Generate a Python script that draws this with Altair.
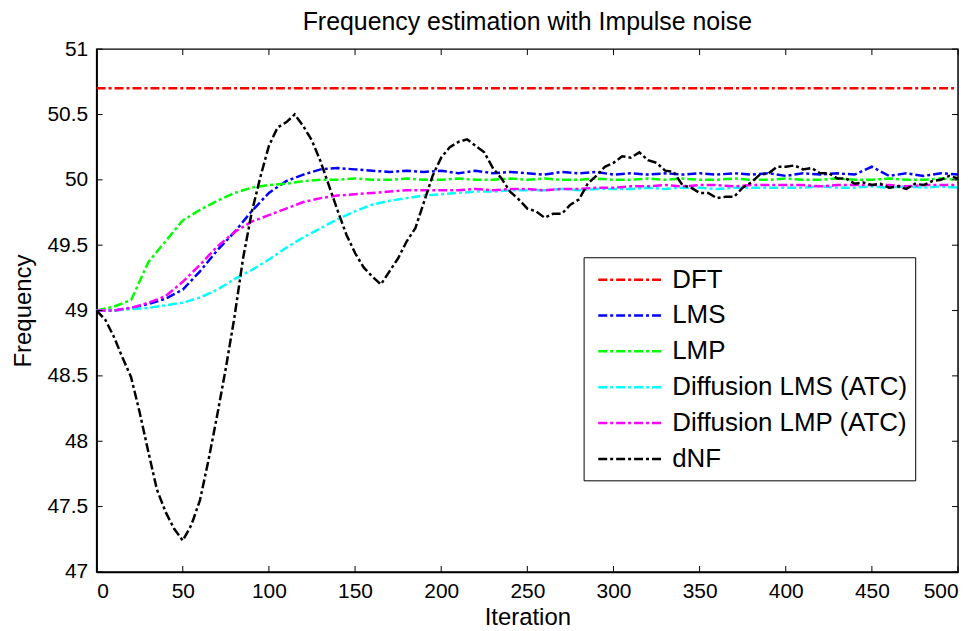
import altair as alt
import pandas as pd

FONT = "Liberation Sans, Arial, Helvetica, sans-serif"

chart_title = ["Frequency estimation with Impulse noise"]
series_names = ["DFT", "LMS", "LMP", "Diffusion LMS (ATC)", "Diffusion LMP (ATC)", "dNF"]
series_colors = ["#ff0000", "#0000ff", "#00ff00", "#00ffff", "#ff00ff", "#000000"]

x_ticks = [0, 50, 100, 150, 200, 250, 300, 350, 400, 450, 500]
y_ticks = [47, 47.5, 48, 48.5, 49, 49.5, 50, 50.5, 51]

dft_iter = [0, 500]
dft = [50.7, 50.7]

it10 = list(range(0, 501, 10))
lms = [49.00, 49.00, 49.02, 49.05, 49.09, 49.16, 49.30, 49.46, 49.60, 49.76,
       49.90, 49.99, 50.04, 50.08, 50.09, 50.08, 50.07, 50.06, 50.07, 50.06,
       50.07, 50.05, 50.07, 50.05, 50.06, 50.05, 50.04, 50.06, 50.05, 50.06,
       50.04, 50.05, 50.04, 50.05, 50.04, 50.05, 50.04, 50.05, 50.04, 50.05,
       50.03, 50.05, 50.04, 50.05, 50.04, 50.10, 50.03, 50.05, 50.03, 50.05,
       50.04]
lmp = [49.00, 49.03, 49.08, 49.37, 49.53, 49.69, 49.77, 49.84, 49.90, 49.94,
       49.96, 49.97, 49.99, 50.00, 50.00, 50.01, 50.00, 50.00, 50.01, 50.00,
       50.00, 50.01, 50.00, 50.00, 50.01, 50.00, 50.01, 50.00, 50.00, 50.01,
       50.00, 50.00, 50.01, 50.00, 50.01, 50.00, 50.00, 50.01, 50.00, 50.00,
       50.01, 50.00, 50.00, 50.01, 50.00, 50.00, 50.01, 50.00, 50.00, 50.01,
       50.00]
dlms = [49.00, 49.00, 49.01, 49.02, 49.04, 49.06, 49.10, 49.16, 49.24, 49.31,
        49.39, 49.48, 49.56, 49.63, 49.70, 49.76, 49.81, 49.84, 49.86, 49.88,
        49.89, 49.90, 49.91, 49.91, 49.92, 49.92, 49.92, 49.93, 49.92, 49.93,
        49.93, 49.93, 49.94, 49.93, 49.94, 49.94, 49.93, 49.94, 49.94, 49.94,
        49.94, 49.94, 49.95, 49.94, 49.94, 49.95, 49.94, 49.95, 49.94, 49.95,
        49.94]
dlmp = [49.00, 49.00, 49.02, 49.06, 49.11, 49.22, 49.35, 49.49, 49.60, 49.68,
        49.73, 49.78, 49.83, 49.86, 49.88, 49.89, 49.90, 49.91, 49.92, 49.92,
        49.92, 49.92, 49.93, 49.92, 49.93, 49.93, 49.92, 49.93, 49.93, 49.94,
        49.94, 49.95, 49.95, 49.96, 49.95, 49.96, 49.96, 49.95, 49.96, 49.96,
        49.96, 49.96, 49.95, 49.96, 49.96, 49.96, 49.96, 49.95, 49.96, 49.96,
        49.96]

it5 = list(range(0, 501, 5))
dnf = [49.00, 48.93, 48.80, 48.64, 48.49, 48.22, 47.92, 47.63, 47.46, 47.33,
       47.24, 47.36, 47.55, 47.86, 48.20, 48.56, 48.95, 49.40, 49.75, 50.02,
       50.26, 50.40, 50.44, 50.50, 50.41, 50.30, 50.14, 49.95, 49.76, 49.58,
       49.44, 49.33, 49.26, 49.20, 49.30, 49.40, 49.53, 49.63, 49.83, 50.03,
       50.17, 50.25, 50.29, 50.31, 50.26, 50.21, 50.09, 50.01, 49.91, 49.85,
       49.78, 49.76, 49.71, 49.74, 49.74, 49.81, 49.85, 49.97, 50.03, 50.10,
       50.13, 50.18, 50.17, 50.21, 50.15, 50.13, 50.07, 50.06, 49.96, 49.94,
       49.90, 49.90, 49.86, 49.87, 49.87, 49.94, 49.98, 50.04, 50.05, 50.10,
       50.10, 50.11, 50.08, 50.09, 50.05, 50.05, 50.01, 50.01, 49.97, 49.98,
       49.96, 49.97, 49.94, 49.95, 49.93, 49.97, 49.96, 49.99, 50.00, 50.03,
       50.01]

frames = [
    pd.DataFrame({"Iteration": dft_iter, "Frequency": dft, "series": "DFT"}),
    pd.DataFrame({"Iteration": it10, "Frequency": lms, "series": "LMS"}),
    pd.DataFrame({"Iteration": it10, "Frequency": lmp, "series": "LMP"}),
    pd.DataFrame({"Iteration": it10, "Frequency": dlms, "series": "Diffusion LMS (ATC)"}),
    pd.DataFrame({"Iteration": it10, "Frequency": dlmp, "series": "Diffusion LMP (ATC)"}),
]
base_df = pd.concat(frames, ignore_index=True)
dnf_df = pd.DataFrame({"Iteration": it5, "Frequency": dnf, "series": "dNF"})

W, H = 865, 525

x_axis = alt.Axis(values=x_ticks, format="d", title="Iteration", titlePadding=4)
y_axis = alt.Axis(values=y_ticks, format="~g", title="Frequency", titlePadding=12)
X = alt.X("Iteration:Q", scale=alt.Scale(domain=[0, 500], nice=False, zero=False), axis=x_axis)
Y = alt.Y("Frequency:Q", scale=alt.Scale(domain=[47, 51], nice=False, zero=False), axis=y_axis)

color = alt.Color(
    "series:N",
    scale=alt.Scale(domain=series_names, range=series_colors),
    sort=series_names,
    legend=alt.Legend(
        title=None,
        orient="none",
        legendX=489,
        legendY=209,
        symbolType="M-0.6,0H4.45",
        symbolSize=676,
        symbolStrokeWidth=2.5,
        symbolDash=[9, 3, 3, 3],
        symbolFillColor="transparent",
        labelFont=FONT,
        labelFontSize=26,
        labelColor="black",
        labelOffset=52,
        labelLimit=500,
        rowPadding=8,
        padding=8,
        strokeColor="black",
        fillColor="white",
    ),
)

line_kw = dict(strokeWidth=2.5, strokeDash=[9, 3, 3, 3])

base_lines = alt.Chart(base_df).mark_line(**line_kw).encode(
    x=X, y=Y, color=color, detail="series:N"
)
dnf_line = alt.Chart(dnf_df).mark_line(**line_kw).encode(x=X, y=Y, color=color)

xt_df = pd.DataFrame({"Iteration": x_ticks})
yt_df = pd.DataFrame({"Frequency": y_ticks})
tick_kw = dict(color="black", strokeWidth=1)
xt_bottom = alt.Chart(xt_df).mark_rule(**tick_kw).encode(x=X, y=alt.value(H), y2=alt.value(H - 6))
xt_top = alt.Chart(xt_df).mark_rule(**tick_kw).encode(x=X, y=alt.value(0), y2=alt.value(6))
yt_left = alt.Chart(yt_df).mark_rule(**tick_kw).encode(y=Y, x=alt.value(0), x2=alt.value(6))
yt_right = alt.Chart(yt_df).mark_rule(**tick_kw).encode(y=Y, x=alt.value(W), x2=alt.value(W - 6))

title_df = pd.DataFrame({"title": chart_title})
title_mark = alt.Chart(title_df).mark_text(
    font=FONT, fontSize=25, color="black", align="center", baseline="alphabetic"
).encode(text="title:N", x=alt.value(W / 2), y=alt.value(-19))

chart = alt.layer(
    base_lines, dnf_line, xt_bottom, xt_top, yt_left, yt_right, title_mark
).properties(
    width=W,
    height=H,
    autosize=alt.AutoSizeParams(type="none"),
    padding={"left": 89, "top": 40, "right": 10, "bottom": 57},
).configure_view(
    stroke="black", strokeWidth=1.5
).configure_axis(
    domainColor="black",
    domainWidth=1.5,
    ticks=False,
    tickSize=0,
    grid=False,
    labelFont=FONT,
    labelFontSize=21,
    labelColor="black",
    labelPadding=9,
    titleFont=FONT,
    titleFontSize=24,
    titleFontWeight="normal",
    titleColor="black",
)

chart.save("out.html", embed_options={"renderer": "svg", "actions": False})
